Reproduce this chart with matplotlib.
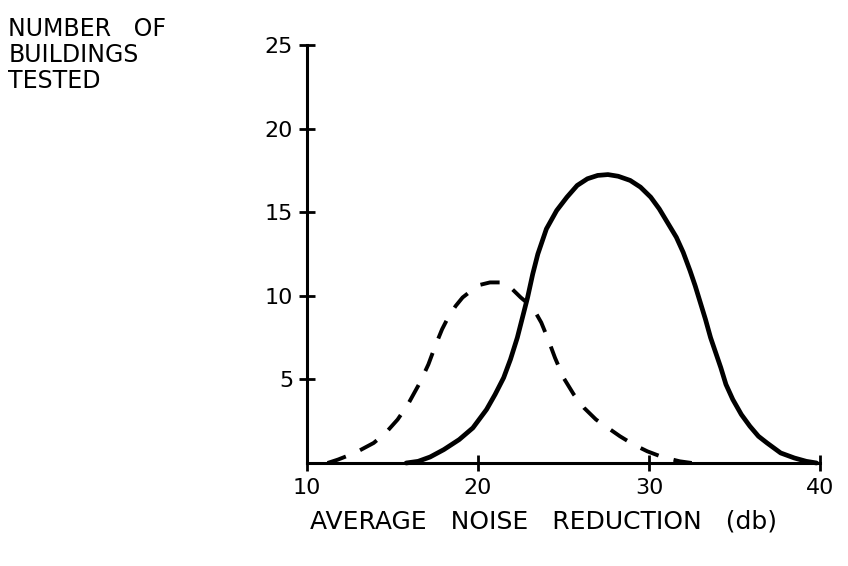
import matplotlib
matplotlib.use("Agg")
import matplotlib.pyplot as plt

# values
solid_x = [15.8, 16.5, 17.2, 18.0, 18.9, 19.7, 20.5, 21.0, 21.5, 21.9, 22.3, 22.6,
           22.9, 23.2, 23.5, 24.0, 24.6, 25.2, 25.8, 26.4, 27.0, 27.6, 28.2, 28.9,
           29.5, 30.1, 30.6, 31.1, 31.6, 32.0, 32.4, 32.7, 33.0, 33.3, 33.6, 33.9,
           34.2, 34.5, 34.9, 35.4, 35.9, 36.4, 36.9, 37.7, 38.5, 39.2, 39.8]
solid_y = [0.0, 0.1, 0.36, 0.8, 1.4, 2.1, 3.2, 4.1, 5.1, 6.2, 7.5, 8.7,
           9.9, 11.3, 12.5, 14.0, 15.1, 15.9, 16.6, 17.0, 17.2, 17.25, 17.15, 16.9,
           16.5, 15.9, 15.2, 14.35, 13.5, 12.6, 11.5, 10.6, 9.6, 8.6, 7.5, 6.6,
           5.7, 4.7, 3.8, 2.9, 2.2, 1.6, 1.2, 0.6, 0.3, 0.1, 0.0]

dashed_x = [11.2, 11.8, 12.8, 13.9, 14.6, 15.3, 15.9, 16.6, 17.1, 17.5, 17.9, 18.3,
            18.7, 19.1, 19.6, 20.1, 20.7, 21.5, 22.0, 22.5, 23.2, 23.7, 24.1, 24.5,
            25.0, 25.6, 26.2, 26.9, 27.6, 28.3, 29.1, 29.9, 30.8, 31.8, 32.5]
dashed_y = [0.0, 0.2, 0.6, 1.2, 1.8, 2.6, 3.5, 4.8, 5.9, 7.0, 8.0, 8.8,
            9.4, 9.9, 10.3, 10.65, 10.8, 10.8, 10.4, 9.9, 9.3, 8.4, 7.4, 6.3,
            5.1, 4.1, 3.3, 2.6, 2.1, 1.6, 1.1, 0.7, 0.35, 0.1, 0.0]

x_ticks = [10, 20, 30, 40]
y_ticks = [5, 10, 15, 20, 25]

plt.rcParams["font.family"] = ["DejaVu Sans"]

fig = plt.figure(figsize=(8.48, 5.66), dpi=100)
ax = fig.add_axes([307 / 848, 1 - 463 / 566, (820 - 307) / 848, (463 - 45) / 566])

ax.plot(solid_x, solid_y, color="black", lw=3.4, solid_capstyle="round",
        solid_joinstyle="round", clip_on=False)
ax.plot(dashed_x, dashed_y, color="black", lw=2.8, linestyle=(0, (5, 4)),
        dash_joinstyle="round", clip_on=False)

ax.set_xlim(10, 40)
ax.set_ylim(0, 25)
ax.spines["top"].set_visible(False)
ax.spines["right"].set_visible(False)
ax.spines["left"].set_linewidth(2.2)
ax.spines["bottom"].set_linewidth(2.2)

ax.set_xticks(x_ticks)
ax.set_xticklabels([str(v) for v in x_ticks])
ax.set_yticks(y_ticks)
ax.set_yticklabels([str(v) for v in y_ticks])
ax.tick_params(axis="both", direction="inout", length=12, width=2, labelsize=16, colors="black")
ax.tick_params(axis="x", pad=5)
ax.tick_params(axis="y", pad=4)

fig.text(0.01, 0.970, "NUMBER   OF\nBUILDINGS\nTESTED", fontsize=17, va="top", ha="left",
         linespacing=1.1)
fig.text(543 / 848, 1 - 522 / 566, "AVERAGE   NOISE   REDUCTION   (db)", fontsize=18,
         ha="center", va="center")

fig.savefig("out.png", dpi=100)
